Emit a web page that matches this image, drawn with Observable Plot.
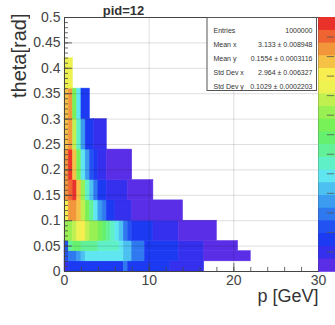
<!DOCTYPE html>
<html>
<head>
<meta charset="utf-8">
<script src="https://cdn.jsdelivr.net/npm/d3@7"></script>
<script src="https://cdn.jsdelivr.net/npm/@observablehq/plot@0.6"></script>
<style>
  html, body { margin: 0; padding: 0; background: #fff; overflow: hidden; }
  #chart { position: relative; width: 335px; height: 325px; font-family: "Liberation Sans", Arial, sans-serif; }
  #chart svg { position: absolute; top: 0; left: 0; }
  #ylab { position: absolute; left: 9px; top: 10px; width: 20px; height: 88px; font-size: 20px; line-height: 20px; color: #333;
          writing-mode: vertical-rl; transform: rotate(180deg); white-space: nowrap; }
</style>
</head>
<body>
<div id="chart"></div>
<script>
// ---------- data ----------
const title = "pid=12";
const xLabel = "p [GeV]";
const yLabel = "theta[rad]";
const xTicks = [0, 10, 20, 30];
const yTicks = [0, 0.05, 0.1, 0.15, 0.2, 0.25, 0.3, 0.35, 0.4, 0.45, 0.5];

// theta band edges (rad); band i spans thetaEdges[i] .. thetaEdges[i+1]
const thetaEdges = [0, 0.02, 0.04, 0.06, 0.10, 0.14, 0.18, 0.24, 0.30, 0.36, 0.42];
// for each band: runs of [p upper edge (GeV), colour level 1..20], starting at p = 0
const band0 = [[0.5, 2], [7, 3], [7.5, 5], [12.5, 3], [16.5, 2]];
const band1 = [[0.5, 4], [1.5, 5], [2, 6], [2.5, 7], [7, 8], [8, 7], [9.5, 5], [13.5, 3], [16.5, 2], [22, 1]];
const band2 = [[0.5, 4], [1, 10], [2, 11], [4, 10], [6.5, 9], [7, 8], [8, 7], [9.5, 5], [13.5, 3], [16.5, 2], [20.5, 1]];
const band3 = [[1, 13], [1.5, 14], [2, 15], [2.5, 16], [3, 14], [4, 13], [4.5, 12], [5, 11], [5.5, 10], [6, 9], [6.5, 8], [7, 7], [7.5, 5], [8, 4], [10.5, 3], [13.5, 2], [18, 1]];
const band4 = [[0.5, 16], [1.5, 18], [2, 17], [2.5, 14], [3, 12], [3.5, 10], [4, 8], [4.5, 6], [5, 5], [6, 3], [8, 2], [14, 1]];
const band5 = [[0.5, 18], [1, 19], [1.5, 20], [2, 17], [2.5, 13], [3, 9], [3.5, 7], [4, 5], [5, 3], [7.5, 2], [10.5, 1]];
const band6 = [[0.5, 18], [1, 20], [1.5, 17], [2, 12], [2.5, 8], [3, 6], [3.5, 4], [4, 3], [5, 2], [8, 1]];
const band7 = [[0.5, 17], [1, 18], [1.5, 14], [2, 9], [2.5, 6], [3.5, 3], [5, 2]];
const band8 = [[0.5, 17], [1, 18], [1.5, 12], [2, 8], [3, 3]];
const band9 = [[1, 15]];
const bands = [band0, band1, band2, band3, band4, band5, band6, band7, band8, band9];

// z axis (colour bar): 20 contour levels up to zMax, ticks every 1000
const zMax = 13000;
const zTicks = [1000, 2000, 3000, 4000, 5000, 6000, 7000, 8000, 9000, 10000, 11000, 12000];

// statistics box
const statLabels = ["Entries", "Mean x", "Mean y", "Std Dev x", "Std Dev y"];
const statValues = ["1000000", "3.133 \u00b1 0.008948", "0.1554 \u00b1 0.0003116", "2.964 \u00b1 0.006327", "0.1029 \u00b1 0.0002203"];

// ---------- styles ----------
const palette = ["#5a2ee6", "#3430ee", "#1c3af2", "#2252f2", "#2e78f0", "#3c9cf0", "#4cc0f0", "#60e6f0",
                 "#60f0c8", "#62f098", "#66f070", "#78f058", "#98f052", "#c0f050", "#eef250", "#f8ee50",
                 "#f6c246", "#f2963c", "#f06432", "#e8322a"];
const levels = d3.range(1, 21);
const colorScale = {type: "ordinal", domain: levels, range: palette};

// ---------- build cells ----------
const cells = [];
bands.forEach((runs, i) => {
  let p0 = 0;
  for (const [p1, level] of runs) {
    cells.push({p0, p1, t0: thetaEdges[i], t1: thetaEdges[i + 1], level});
    p0 = p1;
  }
});

const yDomain = [0, 0.5];
const xDomain = [0, 30];
// colour bar sits just right of the frame; z is mapped onto the frame height
const zToY = z => yDomain[0] + (z / zMax) * (yDomain[1] - yDomain[0]);
const barX1 = 30.06, barX2 = 32.3, tickX1 = 31.05, tickX2 = 31.9;
const zStep = zMax / levels.length;
const barCells = levels.map(L => ({b1: zToY((L - 1) * zStep), b2: zToY(L * zStep), mid: zToY((L - 0.5) * zStep), level: L}));
const barTicks = zTicks.map(zToY);
const barPx = (254 / levels.length) + 0.6;

const yMinor = d3.range(0, 51).map(i => i / 100);
const yMajor = yTicks;
const xMinor = d3.range(0, 31, 2);
const xMajor = xTicks;
const gridX = xTicks.filter(v => v > 0 && v < 30);
const gridY = yTicks.filter(v => v > 0 && v < 0.5);
const tickColor = "#444";

const main = Plot.plot({
  width: 335, height: 325,
  marginLeft: 64, marginRight: 17, marginTop: 17, marginBottom: 54,
  style: {fontFamily: "'Liberation Sans', Arial, sans-serif", fontSize: "14px", color: "#444", background: "transparent", overflow: "visible"},
  x: {domain: xDomain, ticks: xTicks, tickSize: 0, tickPadding: 4, label: null},
  y: {domain: yDomain, ticks: yTicks, tickSize: 0, tickPadding: 4, label: null, tickFormat: d => String(+d.toFixed(2))},
  color: colorScale,
  marks: [
    Plot.rect(cells, {x1: "p0", x2: "p1", y1: "t0", y2: "t1", fill: "level", stroke: "level", strokeWidth: 0.5}),
    Plot.ruleX(gridX, {stroke: "#000", strokeOpacity: 0.13}),
    Plot.ruleY(gridY, {stroke: "#000", strokeOpacity: 0.13}),
    Plot.ruleY(yMinor, {y: d => d, x1: 0, x2: 0.47, stroke: tickColor, strokeWidth: 0.8}),
    Plot.ruleY(yMajor, {y: d => d, x1: 0, x2: 0.95, stroke: tickColor, strokeWidth: 0.8}),
    Plot.ruleX(xMinor, {x: d => d, y1: 0, y2: 0.008, stroke: tickColor, strokeWidth: 0.8}),
    Plot.ruleX(xMajor, {x: d => d, y1: 0, y2: 0.016, stroke: tickColor, strokeWidth: 0.8}),
    Plot.frame({stroke: "#444"}),
    // statistics box (frame-relative pixel insets)
    Plot.rect([0], {insetLeft: 143, insetRight: 1.5, insetTop: 0.5, insetBottom: 180.5, fill: "#fff", stroke: "#555", strokeWidth: 1}),
    Plot.text([statLabels.join("\n")], {text: d => d, frameAnchor: "top-left", dx: 149, dy: 5, lineAnchor: "top", lineHeight: 2.03, textAnchor: "start", fontSize: 7, fill: "#333"}),
    Plot.text([statValues.join("\n")], {text: d => d, frameAnchor: "top-right", dx: -6, dy: 5, lineAnchor: "top", lineHeight: 2.03, textAnchor: "end", fontSize: 7, fill: "#333"}),
    // colour bar (drawn last, as thick rules and as rects)
    Plot.ruleY(barCells, {y: "mid", x1: () => barX1, x2: () => barX2, stroke: "level", strokeWidth: barPx}),
    Plot.rect(barCells, {x1: () => barX1, x2: () => barX2, y1: "b1", y2: "b2", fill: "level"}),
    Plot.ruleY(barTicks, {y: d => d, x1: () => tickX1, x2: () => tickX2, stroke: "#555", strokeOpacity: 0.8}),
    Plot.text([title], {text: d => d, frameAnchor: "top-left", dx: 59, dy: -12, fontWeight: "bold", fontSize: 13, textAnchor: "middle", fill: "#333"}),
    Plot.text([xLabel], {text: d => d, frameAnchor: "bottom-right", dy: 30, textAnchor: "end", fontSize: 18, fill: "#333"})
  ]
});

const chart = document.getElementById("chart");
chart.appendChild(main);

const ylab = document.createElement("div");
ylab.id = "ylab";
ylab.textContent = yLabel;
chart.appendChild(ylab);
</script>
</body>
</html>
